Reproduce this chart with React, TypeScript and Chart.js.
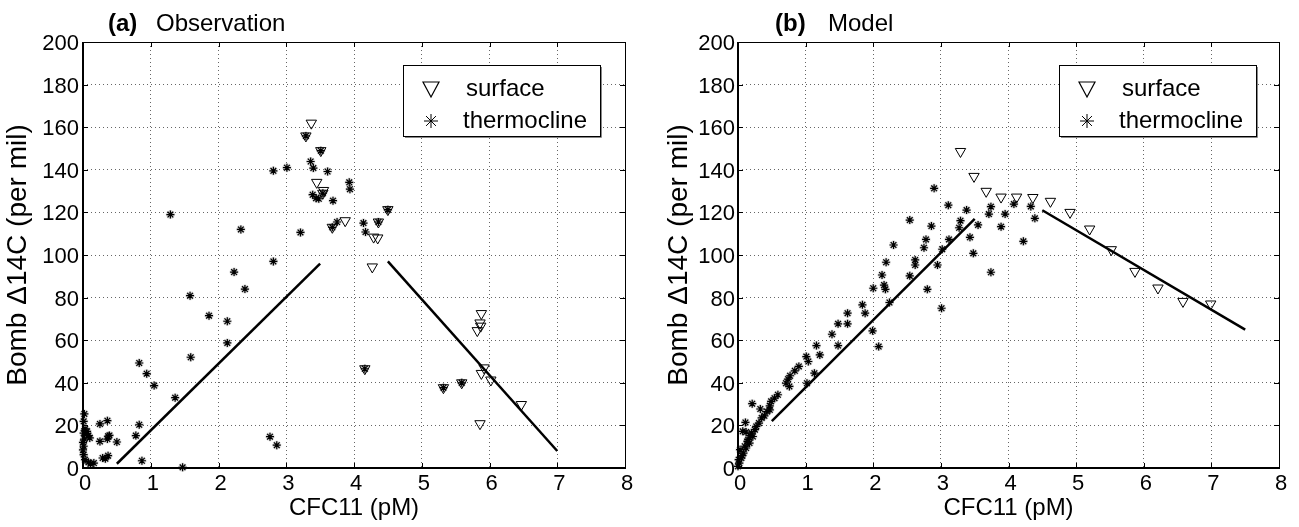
import React, { useEffect, useRef } from 'react';
import { Chart, registerables } from 'chart.js';

Chart.register(...registerables);

// ---------- axis ticks ----------
const xTickValues = [0, 1, 2, 3, 4, 5, 6, 7, 8];
const yTickValues = [0, 20, 40, 60, 80, 100, 120, 140, 160, 180, 200];

// ---------- panel (a) Observation ----------
const aSurfaceX = [3.37, 3.29, 3.51, 3.45, 3.55, 3.54, 4.50, 3.87, 3.68, 4.36, 4.29, 4.35, 4.27, 5.88, 5.86, 5.87, 5.82, 4.16, 5.92, 5.88, 6.02, 5.32, 5.59, 6.47, 5.86];
const aSurfaceY = [161.9, 155.9, 149, 134.1, 130.3, 129, 121.3, 116.1, 113, 115.5, 108.4, 108, 94.4, 72.5, 68.1, 66.6, 64.5, 46.6, 47, 44.4, 41.3, 37.7, 40, 29.8, 20.8];

const aThermoX = [3.29, 3.51, 3.54, 4.50, 3.68, 4.36, 4.16, 5.32, 5.59,
  3.36, 3.40, 3.01, 2.81, 3.61, 3.93, 3.94, 3.39, 3.44, 3.48, 3.69, 3.75, 4.14, 4.17, 3.21, 2.81,
  1.29, 2.33, 2.23, 2.39, 1.58, 1.86, 2.13, 2.13, 1.59, 0.83, 0.94, 1.05, 1.36, 0.83, 0.78, 0.87, 1.47, 2.76, 2.86,
  0.02, 0.01, 0.01, 0.05, 0.08, 0.02, 0.10, 0.01, 0.01, 0.03, 0.08, 0.16, 0.11, 0.25, 0.36, 0.25, 0.37, 0.39, 0.36, 0.50, 0.29, 0.33, 0.37, 0.03, 0.06, 0.00, 0.00];
const aThermoY = [155.9, 149, 129, 121.3, 113, 115.5, 46.6, 37.7, 40,
  143.9, 140.8, 141, 139.5, 139.2, 134.1, 130.9, 128.3, 126.7, 126.4, 125.5, 115.5, 115, 110.8, 110.6, 97,
  119, 112, 92, 84, 80.9, 71.5, 68.9, 58.7, 52, 49.3, 44.3, 38.7, 33, 20.3, 15.2, 3.4, 0.3, 14.7, 10.7,
  25.4, 21.9, 16.4, 16.1, 15.2, 13.6, 14.1, 10.2, 6.3, 3.9, 2.7, 2.3, 2, 20.7, 22.2, 12.5, 14.9, 15.3, 13.6, 12.2, 4.7, 4.4, 5.8, 18.4, 17.2, 12, 8.5];

const aFit1X = [0.5, 3.5];
const aFit1Y = [2, 96];
const aFit2X = [4.5, 7.0];
const aFit2Y = [97, 8];

// ---------- panel (b) Model ----------
const bSurfaceX = [3.29, 3.49, 3.67, 3.89, 4.12, 4.36, 4.62, 4.91, 5.20, 5.52, 5.87, 6.21, 6.58, 6.99];
const bSurfaceY = [148.6, 136.9, 129.9, 127.2, 127.2, 127, 125.2, 120, 112.2, 102.5, 92.3, 84.5, 78.2, 77];

const bThermoX = [2.90, 3.11, 3.38, 3.29, 3.27, 3.43, 3.48, 3.55, 3.74, 3.71, 3.95, 3.89, 3.74, 4.08, 4.33, 4.39, 4.22,
  2.54, 2.86, 2.78, 3.12, 2.75, 3.02, 2.62, 2.62, 2.95, 2.54, 2.30, 2.19, 2.13, 2.16, 2.18, 2.00, 2.80, 2.24, 3.01,
  1.84, 1.88, 1.62, 1.48, 1.62, 1.39, 1.99, 2.08, 1.48, 1.16, 1.21, 1.01, 1.04, 0.90, 0.84, 0.77, 0.74, 0.71, 0.76, 1.13, 1.02,
  0.59, 0.54, 0.49, 0.47, 0.21, 0.33, 0.47, 0.39, 0.31, 0.11, 0.07, 0.12, 0.25, 0.22, 0.17, 0.12, 0.08, 0.05, 0.02, 0.00, 0.15, 0.27, 0.20, 0.03, 0.01, 0.10, 0.06, 0.14, 0.18, 0.35, 0.43];
const bThermoY = [131.3, 123.4, 121.1, 116.1, 112.8, 108.3, 100.8, 114.1, 122.7, 119.2, 119.2, 113.3, 91.9, 123.9, 122.8, 117.2, 106.4,
  116.4, 113.6, 107.3, 107.3, 103.4, 102.7, 97.7, 95.3, 95.3, 90.2, 104.7, 96.6, 90.6, 85.9, 83.9, 84.4, 83.9, 77.7, 75,
  76.6, 72.7, 72.7, 67.7, 67.7, 62.8, 64.4, 57, 57.5, 57.5, 53.1, 52.3, 50, 47.7, 45.6, 43.3, 41.7, 39.8, 38.3, 44.5, 39.8,
  34.4, 32.8, 31.3, 29.2, 30.2, 27.7, 27.3, 24.5, 21.1, 21.4, 17.2, 16.9, 18, 14.8, 11.7, 9.4, 7, 4.7, 2.3, 0.8, 13.3, 19.5, 16.4, 8.6, 3.9, 10.2, 5.8, 12.5, 15.2, 23.5, 26.5];

const bFit1X = [0.5, 3.5];
const bFit1Y = [22, 117];
const bFit2X = [4.5, 7.5];
const bFit2Y = [121, 65];

// ---------- helpers ----------
const FONT = '"Liberation Sans", Arial, Helvetica, sans-serif';

function zip(xs: number[], ys: number[]) {
  return xs.map((x, i) => ({ x, y: ys[i] }));
}

type Panel = {
  surfX: number[]; surfY: number[];
  thermoX: number[]; thermoY: number[];
  fit1X: number[]; fit1Y: number[];
  fit2X: number[]; fit2Y: number[];
  titleBold: string; titleRest: string;
  titleX: number; titleRestX: number;
  yAxisWidth: number; padRight: number;
  yTitlePad: number; yTickPad: number;
  legendLeft: number;
};

function drawStar(ctx: CanvasRenderingContext2D, x: number, y: number, r: number) {
  ctx.beginPath();
  for (let k = 0; k < 4; k++) {
    const a = (k * Math.PI) / 4;
    ctx.moveTo(x - r * Math.cos(a), y - r * Math.sin(a));
    ctx.lineTo(x + r * Math.cos(a), y + r * Math.sin(a));
  }
  ctx.stroke();
}

function framePlugin(p: Panel) {
  return {
    id: 'frame' + p.titleBold,
    afterDraw(chart: any) {
      const ctx = chart.ctx as CanvasRenderingContext2D;
      const { left, right, top, bottom } = chart.chartArea;
      const xs = chart.scales.x;
      const ys = chart.scales.y;
      ctx.save();
      ctx.strokeStyle = '#000';
      ctx.lineWidth = 1;
      ctx.beginPath();
      xTickValues.forEach((v) => {
        const px = Math.round(xs.getPixelForValue(v)) + 0.5;
        ctx.moveTo(px, bottom); ctx.lineTo(px, bottom - 5);
        ctx.moveTo(px, top); ctx.lineTo(px, top + 5);
      });
      yTickValues.forEach((v) => {
        const py = Math.round(ys.getPixelForValue(v)) + 0.5;
        ctx.moveTo(left, py); ctx.lineTo(left + 5, py);
        ctx.moveTo(right, py); ctx.lineTo(right - 5, py);
      });
      ctx.stroke();
      ctx.lineWidth = 1;
      ctx.beginPath();
      ctx.moveTo(left, top + 0.5); ctx.lineTo(right + 0.5, top + 0.5);
      ctx.moveTo(right + 0.5, top); ctx.lineTo(right + 0.5, bottom);
      ctx.stroke();
      ctx.lineWidth = 2;
      ctx.beginPath();
      ctx.moveTo(left, top); ctx.lineTo(left, bottom + 1);
      ctx.moveTo(left - 1, bottom); ctx.lineTo(right + 1, bottom);
      ctx.stroke();

      // title
      ctx.fillStyle = '#000';
      ctx.textBaseline = 'alphabetic';
      ctx.textAlign = 'left';
      ctx.font = `bold 24px ${FONT}`;
      ctx.fillText(p.titleBold, p.titleX, 31);
      ctx.font = `24px ${FONT}`;
      ctx.fillText(p.titleRest, p.titleRestX, 31);

      // legend
      const lx = p.legendLeft, ly = 65, lw = 197, lh = 71;
      ctx.fillStyle = '#fff';
      ctx.fillRect(lx, ly, lw, lh);
      ctx.strokeStyle = '#000';
      ctx.lineWidth = 1;
      ctx.strokeRect(lx + 0.5, ly + 0.5, lw, lh);
      ctx.strokeStyle = '#888';
      ctx.beginPath();
      ctx.moveTo(lx + lw + 1.5, ly + 2); ctx.lineTo(lx + lw + 1.5, ly + lh + 1.5); ctx.lineTo(lx + 2, ly + lh + 1.5);
      ctx.stroke();
      ctx.strokeStyle = '#000';
      ctx.lineWidth = 1.2;
      const tx = lx + 28, ty = ly + 23;
      ctx.beginPath();
      ctx.moveTo(tx - 8, ty - 6); ctx.lineTo(tx + 8, ty - 6); ctx.lineTo(tx, ty + 9); ctx.closePath();
      ctx.stroke();
      ctx.lineWidth = 1;
      drawStar(ctx, lx + 28, ly + 56, 7);
      ctx.fillStyle = '#000';
      ctx.font = `24px ${FONT}`;
      ctx.textBaseline = 'middle';
      ctx.fillText('surface', lx + 63, ly + 24);
      ctx.fillText('thermocline', lx + 60, ly + 56);
      ctx.restore();
    },
  };
}

function makeConfig(p: Panel): any {
  const thermo = zip(p.thermoX, p.thermoY);
  return {
    type: 'scatter',
    data: {
      datasets: [
        {
          label: 'fit1', type: 'line', data: zip(p.fit1X, p.fit1Y), showLine: true,
          borderColor: '#000', borderWidth: 2.5, pointRadius: 0, fill: false, order: 1, clip: 10,
        },
        {
          label: 'fit2', type: 'line', data: zip(p.fit2X, p.fit2Y), showLine: true,
          borderColor: '#000', borderWidth: 2.5, pointRadius: 0, fill: false, order: 1, clip: 10,
        },
        {
          label: 'surface', data: zip(p.surfX, p.surfY),
          pointStyle: 'triangle', pointRotation: 180, pointRadius: 6,
          pointBorderColor: '#000', pointBorderWidth: 1, pointBackgroundColor: 'rgba(255,255,255,0)',
          order: 2, clip: 10,
        },
        {
          label: 'thermocline', data: thermo,
          pointStyle: 'star', pointRadius: 4, pointBorderColor: '#000', pointBorderWidth: 1.2,
          pointBackgroundColor: 'rgba(0,0,0,0)', order: 3, clip: 10,
        },
        {
          label: 'thermocline-halo', data: thermo,
          pointStyle: 'star', pointRadius: 4.5, pointBorderColor: 'rgba(0,0,0,0.18)', pointBorderWidth: 2.6,
          pointBackgroundColor: 'rgba(0,0,0,0)', order: 4, clip: 10,
        },
      ],
    },
    options: {
      animation: false,
      responsive: false,
      maintainAspectRatio: false,
      events: [],
      layout: { padding: { left: 0, right: p.padRight, top: 42, bottom: 0 } },
      plugins: { legend: { display: false }, tooltip: { enabled: false }, title: { display: false } },
      scales: {
        x: {
          type: 'linear', min: 0, max: 8,
          afterBuildTicks: (s: any) => { s.ticks = xTickValues.map((v) => ({ value: v })); },
          afterFit: (s: any) => { s.height = 59; },
          ticks: { color: '#000', font: { family: FONT, size: 22 }, padding: 3, maxRotation: 0, autoSkip: false, labelOffset: 2 },
          grid: { color: 'rgba(0,0,0,0.6)', lineWidth: 1, drawTicks: false },
          border: { display: false, dash: [1, 3] },
          title: { display: true, text: 'CFC11 (pM)', color: '#000', font: { family: FONT, size: 24 }, padding: { top: 0, bottom: 4 } },
        },
        y: {
          type: 'linear', min: 0, max: 200,
          afterBuildTicks: (s: any) => { s.ticks = yTickValues.map((v) => ({ value: v })); },
          afterFit: (s: any) => { s.width = p.yAxisWidth; },
          ticks: { color: '#000', font: { family: FONT, size: 22 }, padding: p.yTickPad, autoSkip: false, labelOffset: 2 },
          grid: { color: 'rgba(0,0,0,0.6)', lineWidth: 1, drawTicks: false },
          border: { display: false, dash: [1, 3] },
          title: { display: true, text: 'Bomb \u039414C (per mil)', color: '#000', font: { family: FONT, size: 28 }, padding: { top: p.yTitlePad, bottom: 0 } },
        },
      },
    },
    plugins: [framePlugin(p)],
  };
}

const panelA: Panel = {
  surfX: aSurfaceX, surfY: aSurfaceY, thermoX: aThermoX, thermoY: aThermoY,
  fit1X: aFit1X, fit1Y: aFit1Y, fit2X: aFit2X, fit2Y: aFit2Y,
  titleBold: '(a)', titleRest: 'Observation', titleX: 108, titleRestX: 156,
  yAxisWidth: 83, padRight: 25, yTitlePad: 1, yTickPad: 4, legendLeft: 403,
};

const panelB: Panel = {
  surfX: bSurfaceX, surfY: bSurfaceY, thermoX: bThermoX, thermoY: bThermoY,
  fit1X: bFit1X, fit1Y: bFit1Y, fit2X: bFit2X, fit2Y: bFit2Y,
  titleBold: '(b)', titleRest: 'Model', titleX: 125, titleRestX: 178,
  yAxisWidth: 88, padRight: 20, yTitlePad: 12, yTickPad: 3, legendLeft: 409,
};

function ChartCanvas({ panel, left, width }: { panel: Panel; left: number; width: number }) {
  const ref = useRef<HTMLCanvasElement | null>(null);
  useEffect(() => {
    if (!ref.current) return;
    const chart = new Chart(ref.current, makeConfig(panel));
    return () => chart.destroy();
  }, [panel]);
  return (
    <canvas
      ref={ref}
      width={width}
      height={527}
      style={{ position: 'absolute', left, top: 0, width, height: 527, display: 'block' }}
    />
  );
}

export default function App() {
  return (
    <div style={{ position: 'absolute', left: 0, top: 0, width: 1299, height: 527, background: '#fff', overflow: 'hidden' }}>
      <ChartCanvas panel={panelA} left={0} width={650} />
      <ChartCanvas panel={panelB} left={650} width={649} />
    </div>
  );
}
